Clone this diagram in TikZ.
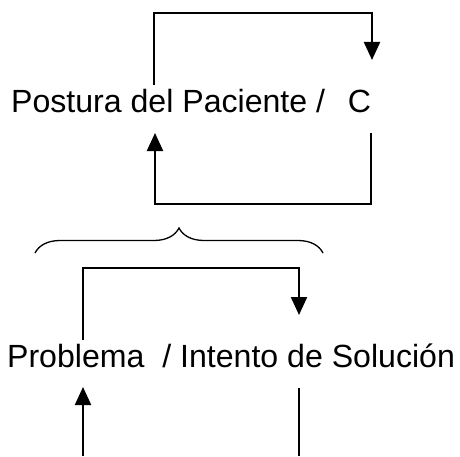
\documentclass[tikz,border=0pt]{standalone}
\usepackage{fontspec}
\setmainfont{Liberation Sans}
\usetikzlibrary{arrows.meta,decorations.pathreplacing}
\tikzset{>={Triangle[length=18pt,width=16pt]}}

\begin{document}
\begin{tikzpicture}[x=1pt,y=1pt,line width=2.2pt,
  lbl/.style={inner sep=0pt,anchor=base west,font=\fontsize{32.1}{36}\selectfont},
  brc/.style={line width=1.3pt,decorate,decoration={brace,amplitude=25pt}}]
\useasboundingbox (0,0) rectangle (460,456);
% texts
\node[lbl] (post) at (10,343) {Postura del Paciente /\ \ \hspace{5pt}C};
\node[lbl] (prob) at (6,89) {Problema\ \ / Intento de Soluci\'on};
% top loop
\coordinate (pa) at (154,371);
\coordinate (pb) at (372,396);
\draw[->] (pa) |- (372,443) -- (pb);
\coordinate (pc) at (371,323);
\coordinate (pd) at (155,323);
\draw[->] (pc) |- (155,252) -- (pd);
% brace
\coordinate (bl) at (35,203);
\coordinate (br) at (323,203);
\draw[brc] (bl) -- (br);
% bottom loop
\coordinate (qa) at (83,116);
\coordinate (qb) at (299,141);
\draw[->] (qa) |- (299,188) -- (qb);
\coordinate (qc) at (83,0);
\coordinate (qd) at (83,69);
\draw[->] (qc) -- (qd);
\coordinate (qe) at (299,68);
\coordinate (qf) at (299,0);
\draw (qe) -- (qf);
\end{tikzpicture}
\end{document}
